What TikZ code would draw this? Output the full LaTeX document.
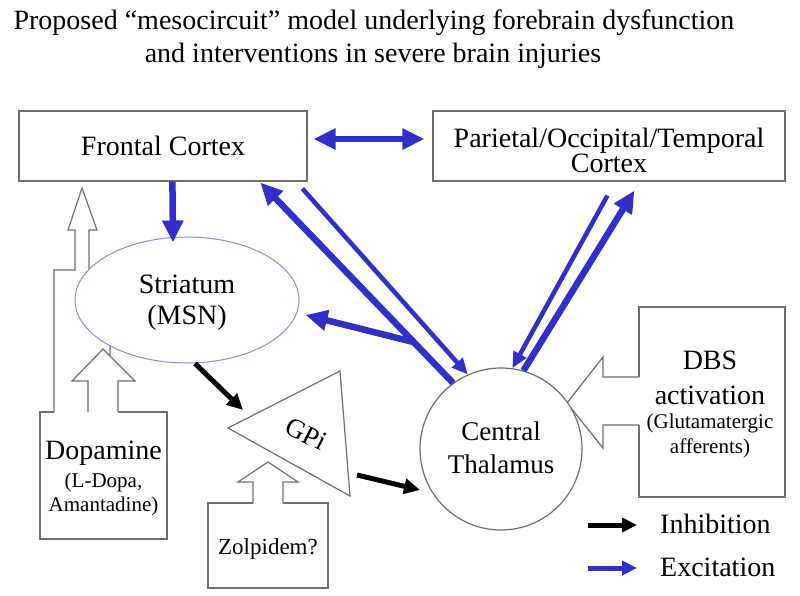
\documentclass[tikz,border=0pt]{standalone}
\usepackage{fontspec}
\setmainfont{Liberation Serif}
\usetikzlibrary{arrows.meta,shapes.geometric,calc}
\definecolor{exblue}{RGB}{48,48,200}
\definecolor{outl}{RGB}{110,110,110}
\definecolor{ellc}{RGB}{140,140,215}
\begin{document}
\begin{tikzpicture}[x=1pt,y=-1pt,
  box/.style={draw=outl,line width=1.2pt,fill=white,rectangle,inner sep=0pt},
  lab/.style={font=\fontsize{28}{30}\selectfont,anchor=base,inner sep=0pt},
  midlab/.style={font=\fontsize{23}{25}\selectfont,anchor=base,inner sep=0pt},
  sublab/.style={font=\fontsize{21}{23}\selectfont,anchor=base,inner sep=0pt},
  ttl/.style={font=\fontsize{28}{30}\selectfont,anchor=base,inner sep=0pt},
  hollow/.style={draw=outl,line width=1.2pt,line join=miter},
  excw/.style={draw=exblue,line width=6.5pt,-{Triangle[length=22pt,width=20pt]}},
  excn/.style={draw=exblue,line width=4.5pt,-{Triangle[length=16pt,width=14pt]}},
  inh/.style={draw=black,line width=5pt,-{Triangle[length=16pt,width=15pt]}}
]
\useasboundingbox (0,0) rectangle (800,596);
\fill[white] (0,0) rectangle (800,596);

% title
\node[ttl] (t1) at (374,30) {Proposed “mesocircuit” model underlying forebrain dysfunction};
\node[ttl] (t2) at (373,63) {and interventions in severe brain injuries};

% cortex boxes
\node[box,minimum width=288pt,minimum height=70pt] (fc) at (163,146) {};
\node[lab] (fct) at (163,156) {Frontal Cortex};
\node[box,minimum width=352pt,minimum height=70pt] (pc) at (609,146) {};
\node[font=\fontsize{28}{25}\selectfont,align=center,inner sep=0pt] (pct) at (609,150) {Parietal/Occipital/Temporal\\Cortex};

% dopamine box and hollow arrows
\node[box,minimum width=127pt,minimum height=127pt] (dop) at (103.5,475.5) {};
\fill[white] (54,413) -- (54,270) -- (75,270) -- (75,230) -- (68,230) -- (82,188) -- (97,230) -- (89,230) -- (89,290) -- (110,290) -- (110,413) -- cycle;
\draw[hollow] (54,412) -- (54,270) -- (75,270) -- (75,230) -- (68,230) -- (82,188) -- (97,230) -- (89,230) -- (89,290) -- (110,290) -- (110,412);

% striatum
\node[ellipse,draw=ellc,line width=1pt,fill=white,minimum width=224pt,minimum height=126pt,inner sep=0pt] (st) at (187,300) {};
\node[lab] (stt1) at (187,293) {Striatum};
\node[lab] (stt2) at (187,324) {(MSN)};

\fill[white] (88,413) -- (88,381) -- (72,381) -- (103,349) -- (135,381) -- (118,381) -- (118,413) -- cycle;
\draw[hollow] (88,412) -- (88,381) -- (72,381) -- (103,349) -- (135,381) -- (118,381) -- (118,412);

\node[lab] (dopt1) at (103.5,459) {Dopamine};
\node[sublab] (dopt2) at (103.5,487) {(L-Dopa,};
\node[sublab] (dopt3) at (103.5,511) {Amantadine)};

% GPi
\draw[hollow,fill=white] (228,428) coordinate (gL) -- (340,371) coordinate (gT) -- (350,496) coordinate (gB) -- cycle;
\node[font=\fontsize{27}{29}\selectfont,rotate=-27,inner sep=0pt] (gpi) at (306,434) {GPi};

% zolpidem
\node[box,minimum width=120pt,minimum height=85pt] (zol) at (268,545.5) {};
\fill[white] (253,504) -- (253,482) -- (238,482) -- (268,462) -- (298,482) -- (283,482) -- (283,504) -- cycle;
\draw[hollow] (253,503) -- (253,482) -- (238,482) -- (268,462) -- (298,482) -- (283,482) -- (283,503);
\node[midlab] (zolt) at (268,554) {Zolpidem?};

% DBS
\node[box,minimum width=146pt,minimum height=190pt] (dbs) at (712,402) {};
\fill[white] (640,377) -- (603,377) -- (603,357) -- (567,403) -- (603,448) -- (603,425) -- (640,425) -- cycle;
\draw[hollow] (639,377) -- (603,377) -- (603,357) -- (567,403) -- (603,448) -- (603,425) -- (639,425);
\node[lab] (dbst1) at (710,369) {DBS};
\node[lab] (dbst2) at (710,404) {activation};
\node[sublab] (dbst3) at (710,428) {(Glutamatergic};
\node[sublab] (dbst4) at (710,453) {afferents)};

% thalamus
\node[circle,draw=outl,line width=1.2pt,fill=white,minimum size=162pt,inner sep=0pt] (th) at (501,449) {};
\node[font=\fontsize{27}{29}\selectfont,anchor=base,inner sep=0pt] (tht1) at (501,440) {Central};
\node[font=\fontsize{27}{29}\selectfont,anchor=base,inner sep=0pt] (tht2) at (501,473) {Thalamus};

% excitation arrows
\draw[draw=exblue,line width=6.5pt,{Triangle[length=22pt,width=20pt]}-{Triangle[length=22pt,width=20pt]}]
  ([shift={(6,-7)}]fc.east) -- ([shift={(-8,-7)}]pc.west);
\draw[excw] ([shift={(154,0)}]fc.south west) -- ([shift={(-14,6)}]st.north);
\coordinate (tipfc) at ([shift={(242,1)}]fc.south west);
\coordinate (fork) at ($(th.126)!0.204!(tipfc)$);
\draw[excw] (th.126) -- (tipfc);
\draw[excw,line cap=round] (fork) -- ([shift={(6,15)}]st.east);
\draw[excn] ([shift={(284,7)}]fc.south west) -- (th.114);
\draw[excn] ([shift={(175,14)}]pc.south west) -- (th.82);
\draw[excw] (th.74) -- ([shift={(202,9)}]pc.south west);

% inhibition arrows
\draw[inh] ([shift={(8,0)}]st.south) -- ([shift={(15,-18)}]gL);
\draw[inh] ([shift={(7,-21)}]gB) -- ([shift={(-81,41)}]th.center);

% legend
\coordinate (li1) at (588,525);
\coordinate (li2) at (637,525);
\coordinate (le1) at (588,568);
\coordinate (le2) at (637,568);
\draw[draw=black,line width=5pt,-{Triangle[length=15pt,width=14pt]}] (li1) -- (li2);
\draw[draw=exblue,line width=5pt,-{Triangle[length=15pt,width=14pt]}] (le1) -- (le2);
\node[lab,anchor=base west] (lit) at (660,533) {Inhibition};
\node[lab,anchor=base west] (let) at (660,576) {Excitation};
\end{tikzpicture}
\end{document}
